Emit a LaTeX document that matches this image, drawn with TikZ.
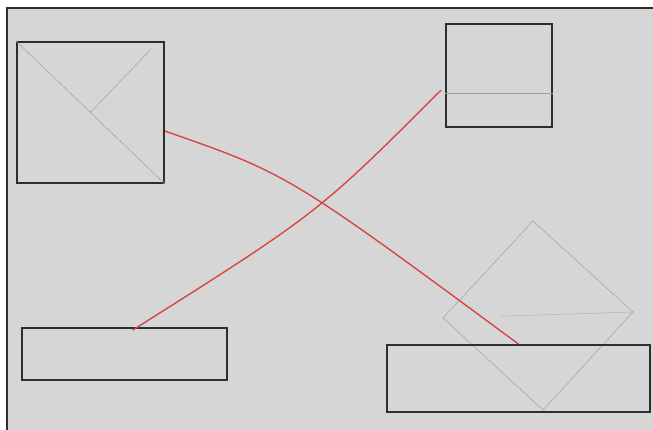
\documentclass[tikz,border=0pt]{standalone}
\usepackage{xcolor}
\usepackage{tikz}
\definecolor{paper}{HTML}{d6d6d6}
\definecolor{redpencil}{HTML}{d94545}
\definecolor{graphite}{HTML}{2e2e2e}
\definecolor{edgeline}{HTML}{3a2a2a}
\usetikzlibrary{positioning, calc, fit}

\begin{document}
\begin{tikzpicture}[x=0.03cm, y=-0.03cm,
    box/.style={draw=graphite, line width=1.6pt, inner sep=0pt, rectangle},
    pencil/.style={draw=gray!75, line width=0.4pt},
    redline/.style={draw=redpencil, line width=1.2pt}]
    \useasboundingbox (0,0) rectangle (653,430);

    % Paper sheet
    \fill[paper] (7,8) rectangle (653,430);
    \draw[edgeline, line width=1.2pt] (653,8) -- (7,8) -- (7,430);

    % Square with diagonals (top left)
    \node[box, fit={(17,42) (164,183)}] (sq) {};
    \draw[pencil] (sq.north west) -- (sq.south east);
    \draw[pencil] ($(sq.north east)+(-14,8)$) -- (sq.center);

    % Square (top right)
    \node[box, fit={(446,24) (552,127)}] (tr) {};
    \draw[pencil] ($(tr.north west)!0.67!(tr.south west)$) -- ($(tr.north east)!0.67!(tr.south east)$);

    % Bar (bottom left)
    \node[box, fit={(22,328) (227,380)}] (bl) {};

    % Pencil diamond behind the bottom right bar
    \coordinate (dtop) at (533,221);
    \coordinate (dright) at (633,312);
    \coordinate (dbottom) at (543,410);
    \coordinate (dleft) at (443,318);
    \draw[pencil] (dtop) -- (dright) -- (dbottom) -- (dleft) -- cycle;
    \draw[pencil, gray!60] ($(dleft)!0.3!(dright)$) -- (dright);

    % Bar (bottom right)
    \node[box, fit={(387,345) (650,412)}] (br) {};

    % Red crossing lines
    \draw[redline] ($(sq.north east)!0.63!(sq.south east)$) .. controls (288,174) .. (br.north);
    \draw[redline] ($(bl.north west)!0.54!(bl.north east)+(0,3)$) .. controls (318,213) .. ($(tr.north west)!0.64!(tr.south west)+(-4,0)$);
\end{tikzpicture}
\end{document}
